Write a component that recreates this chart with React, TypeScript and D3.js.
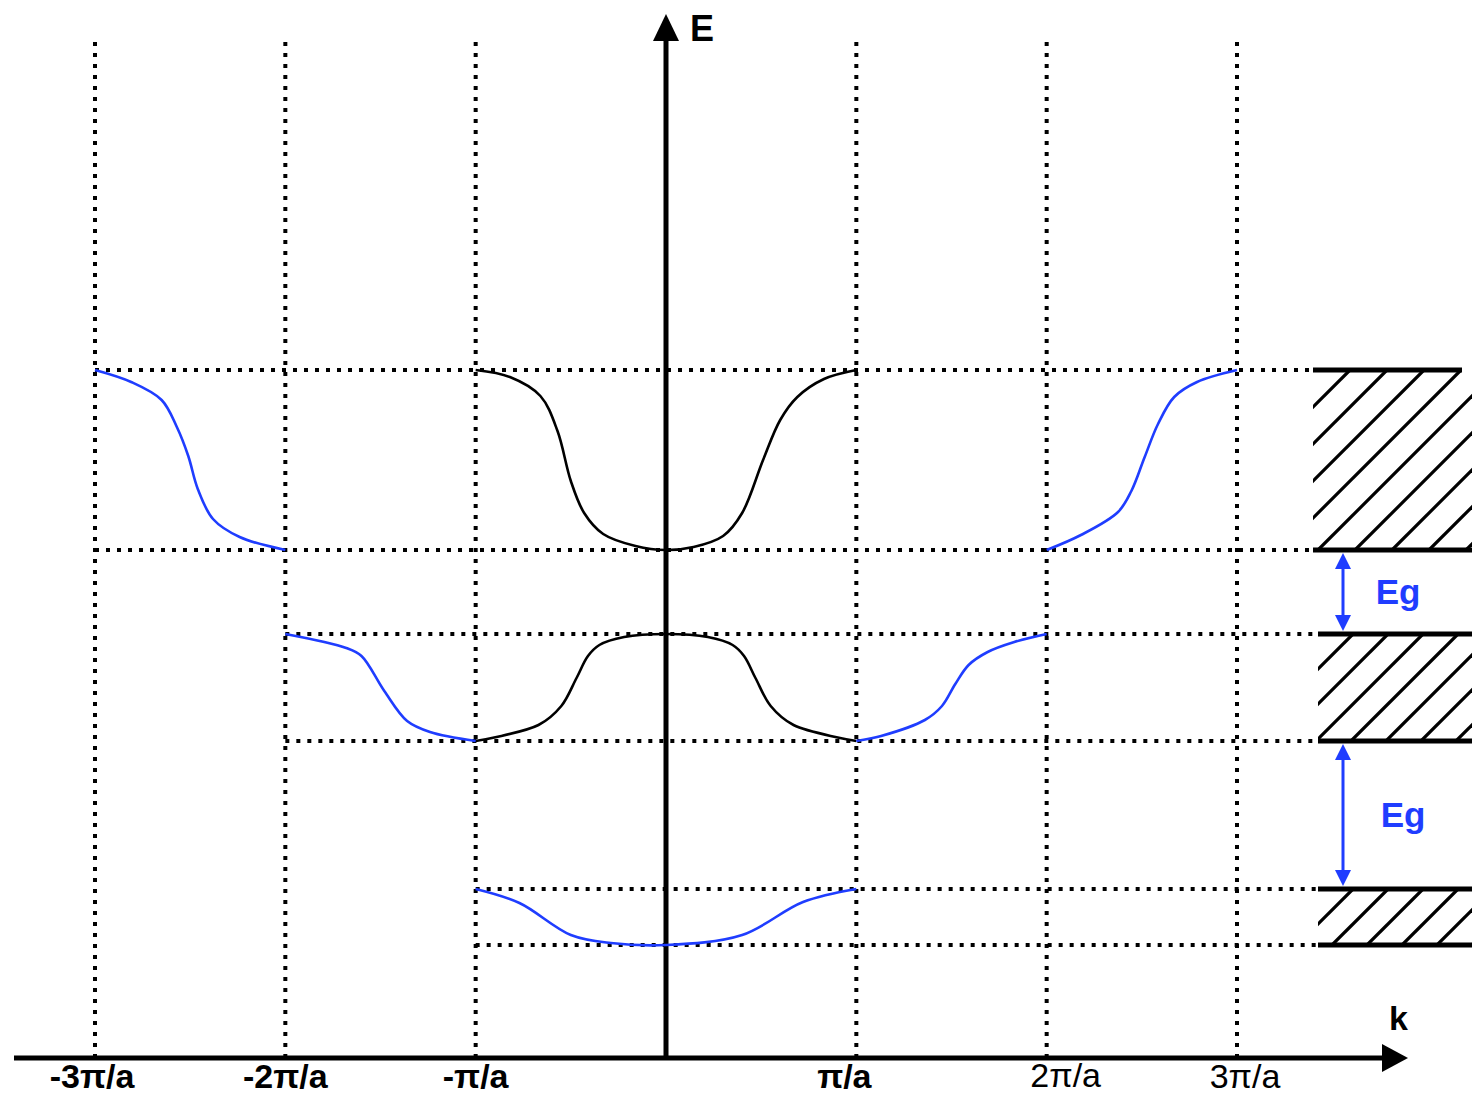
import React from 'react';
import * as d3 from 'd3';

// k in units of pi/a, E in arbitrary units
const kTicks = [-3, -2, -1, 1, 2, 3];
const kLabels = ['-3π/a', '-2π/a', '-π/a', 'π/a', '2π/a', '3π/a'];
const kLabelBold = [true, true, true, true, false, false];

const bandBottoms = [1.13, 3.17, 5.08];
const bandTops = [1.69, 4.24, 6.88];
const bandZoneStart = [-1, -2, -3];

const band1Zone1 = [[-1, 1.69], [-0.77, 1.55], [-0.5, 1.23], [-0.29, 1.15], [0, 1.13], [0.4, 1.23], [0.72, 1.56], [1, 1.69]];
const band2Zone1 = [[-1, 3.17], [-0.67, 3.33], [-0.55, 3.52], [-0.47, 3.8], [-0.41, 4.02], [-0.35, 4.13], [-0.22, 4.21], [0, 4.24],
  [0.22, 4.21], [0.35, 4.13], [0.41, 4.02], [0.47, 3.8], [0.55, 3.52], [0.67, 3.33], [1, 3.17]];
const band2Left = [[-2, 4.24], [-1.68, 4.1], [-1.6, 4.02], [-1.48, 3.67], [-1.36, 3.37], [-1.24, 3.26], [-1, 3.17]];
const band2Right = [[1, 3.17], [1.13, 3.22], [1.36, 3.38], [1.45, 3.52], [1.52, 3.74], [1.59, 3.93], [1.69, 4.06], [1.83, 4.16], [2, 4.24]];
const band3Zone1 = [[-1, 6.88], [-0.82, 6.81], [-0.66, 6.62], [-0.57, 6.27], [-0.5, 5.77], [-0.43, 5.45], [-0.33, 5.24], [-0.16, 5.12], [0, 5.08],
  [0.145, 5.11], [0.3, 5.22], [0.4, 5.45], [0.51, 5.98], [0.6, 6.38], [0.69, 6.61], [0.83, 6.79], [1, 6.88]];
const band3Left = [[-3, 6.88], [-2.81, 6.76], [-2.65, 6.58], [-2.57, 6.31], [-2.51, 6.02], [-2.46, 5.69], [-2.38, 5.39], [-2.24, 5.21], [-2, 5.08]];
const band3Right = [[2, 5.08], [2.18, 5.23], [2.375, 5.46], [2.445, 5.67], [2.515, 6.01], [2.585, 6.34], [2.67, 6.61], [2.79, 6.76], [3, 6.88]];

const BLUE = '#1f3dff';

const curves = [
  { pts: band1Zone1, color: BLUE },
  { pts: band2Zone1, color: '#000' },
  { pts: band2Left, color: BLUE },
  { pts: band2Right, color: BLUE },
  { pts: band3Zone1, color: '#000' },
  { pts: band3Left, color: BLUE },
  { pts: band3Right, color: BLUE },
];

export default function App() {
  const W = 1472, H = 1097;
  const x = d3.scaleLinear().domain([-3, 3]).range([95, 1237]);
  const y = d3.scaleLinear().domain([0, 10]).range([1058, 58]);
  const axisY = y(0);
  const axisX = x(0);

  const line = d3.line<number[]>()
    .x(d => x(d[0]))
    .y(d => y(d[1]))
    .curve(d3.curveCatmullRom.alpha(0.5));

  const dot = { stroke: '#000', strokeWidth: 4, strokeDasharray: '4 7', fill: 'none' };

  const labelNudge = [-3, 0, 0, -12, 19, 8];
  const labelBase = [1088, 1088, 1088, 1088, 1087, 1088];

  const hatchX0 = [1318, 1318, 1313];
  const hatchX1 = 1472;
  const arrowX = 1343;

  return (
    <svg width={W} height={H} style={{ position: 'absolute', left: 0, top: 0, background: '#fff' }}>
      <defs>
        {bandTops.map((t, i) => (
          <clipPath id={`clip${i}`} key={i}>
            <rect x={hatchX0[i]} y={y(t)} width={hatchX1 - hatchX0[i]} height={y(bandBottoms[i]) - y(t)} />
          </clipPath>
        ))}
      </defs>

      {/* vertical dotted zone lines */}
      {kTicks.map(k => (
        <line key={k} x1={x(k)} x2={x(k)} y1={42} y2={axisY} {...dot} />
      ))}

      {/* horizontal dotted band edges */}
      {bandTops.map((t, i) => (
        <g key={i}>
          <line x1={x(bandZoneStart[i])} x2={hatchX0[i]} y1={y(t)} y2={y(t)} {...dot} />
          <line x1={x(bandZoneStart[i])} x2={hatchX0[i]} y1={y(bandBottoms[i])} y2={y(bandBottoms[i])} {...dot} />
        </g>
      ))}

      {/* axes */}
      <line x1={14} x2={1385} y1={axisY} y2={axisY} stroke="#000" strokeWidth={5} />
      <path d={`M1408,${axisY} L1382,${axisY - 14} L1382,${axisY + 14} Z`} fill="#000" />
      <line x1={axisX} x2={axisX} y1={axisY} y2={38} stroke="#000" strokeWidth={5} />
      <path d={`M${axisX},14 L${axisX - 13},41 L${axisX + 13},41 Z`} fill="#000" />
      <text x={690} y={41} fontFamily="Liberation Sans, Arial, sans-serif" fontWeight="bold" fontSize={36}>E</text>
      <text x={1389} y={1030} fontFamily="Liberation Sans, Arial, sans-serif" fontWeight="bold" fontSize={34}>k</text>

      {/* band curves */}
      {curves.map((c, i) => (
        <path key={i} d={line(c.pts as number[][]) || ''} fill="none" stroke={c.color} strokeWidth={2.6} />
      ))}

      {/* tick labels */}
      {kTicks.map((k, i) => (
        <text key={k} x={x(k) + labelNudge[i]} y={labelBase[i]} textAnchor="middle"
          fontFamily="Liberation Sans Narrow, Arial Narrow, Liberation Sans, sans-serif"
          fontWeight={kLabelBold[i] ? 'bold' : 'normal'} fontSize={34}>{kLabels[i]}</text>
      ))}

      {/* hatched allowed bands */}
      {bandTops.map((t, i) => {
        const top = y(t), bot = y(bandBottoms[i]);
        const h = bot - top;
        const starts = d3.range(hatchX0[i] - h, hatchX1 + 5, i === 2 ? 37 : 35);
        return (
          <g key={i}>
            <g clipPath={`url(#clip${i})`}>
              {starts.map(s => (
                <line key={s} x1={s} y1={bot} x2={s + h} y2={top} stroke="#000" strokeWidth={3.2} />
              ))}
            </g>
            <line x1={hatchX0[i]} x2={i === 2 ? 1462 : hatchX1} y1={top} y2={top} stroke="#000" strokeWidth={5} />
            <line x1={hatchX0[i]} x2={hatchX1} y1={bot} y2={bot} stroke="#000" strokeWidth={5} />
          </g>
        );
      })}

      {/* band gap arrows */}
      {[0, 1].map(i => {
        const lo = y(bandTops[i]) - 3, hi = y(bandBottoms[i + 1]) + 3;
        return (
          <g key={i}>
            <line x1={arrowX} x2={arrowX} y1={hi + 12} y2={lo - 12} stroke={BLUE} strokeWidth={3} />
            <path d={`M${arrowX},${hi} L${arrowX - 8},${hi + 16} L${arrowX + 8},${hi + 16} Z`} fill={BLUE} />
            <path d={`M${arrowX},${lo} L${arrowX - 8},${lo - 16} L${arrowX + 8},${lo - 16} Z`} fill={BLUE} />
            <text x={i === 0 ? 1398 : 1403} y={i === 0 ? 604 : 827} textAnchor="middle" fill={BLUE}
              fontFamily="Liberation Sans, Arial, sans-serif" fontWeight="bold" fontSize={35}>Eg</text>
          </g>
        );
      })}
    </svg>
  );
}
